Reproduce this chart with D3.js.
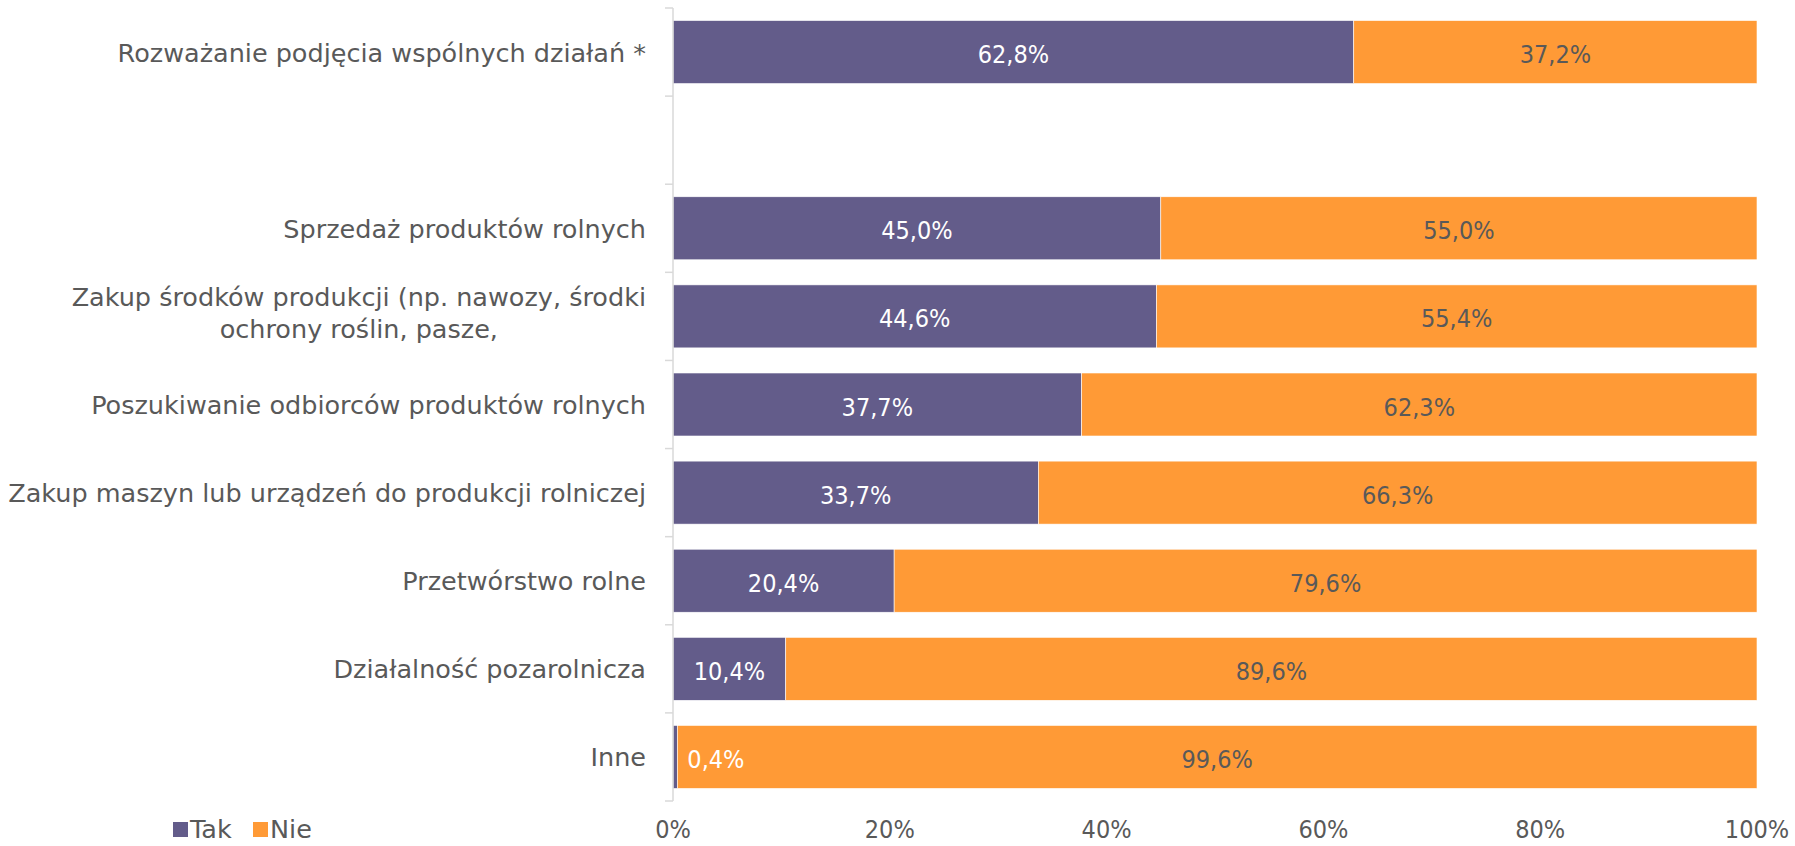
<!DOCTYPE html>
<html>
<head>
<meta charset="utf-8">
<script src="https://cdn.jsdelivr.net/npm/d3@7"></script>
<style>
  html, body { margin: 0; padding: 0; background: #fff; }
  svg { display: block; }
  text { font-family: "DejaVu Sans", sans-serif; }
  text.num { font-family: "DejaVu Sans Condensed", "DejaVu Sans", sans-serif; font-stretch: condensed; }
</style>
</head>
<body>
<svg id="chart" width="1795" height="846"></svg>
<script>
// ---- data ----
const categories = [
  "Rozważanie podjęcia wspólnych działań *",
  "",
  "Sprzedaż produktów rolnych",
  "Zakup środków produkcji (np. nawozy, środki\nochrony roślin, pasze,",
  "Poszukiwanie odbiorców produktów rolnych",
  "Zakup maszyn lub urządzeń do produkcji rolniczej",
  "Przetwórstwo rolne",
  "Działalność pozarolnicza",
  "Inne"
];
const takValues = [62.8, null, 45.0, 44.6, 37.7, 33.7, 20.4, 10.4, 0.4];
const nieValues = [37.2, null, 55.0, 55.4, 62.3, 66.3, 79.6, 89.6, 99.6];
const seriesNames = ["Tak", "Nie"];
const xTickValues = [0, 20, 40, 60, 80, 100];

(function () {
// ---- styles ----
const colors = { Tak: "#635C8A", Nie: "#FF9A36" };
const textColor = "#595959";
const axisColor = "#D9D9D9";
const catFont = 25.5;
const valFont = 25;
const bottomBaseline = 838;

const svg = d3.select("#chart");
const mLeft = 673, mRight = 1757, mTop = 8, mBottom = 801;

const x = d3.scaleLinear().domain([0, 100]).range([mLeft, mRight]);
const y = d3.scaleBand()
  .domain(categories.map((c, i) => i))
  .range([mTop, mBottom])
  .paddingInner(0.285)
  .paddingOuter(0.1425);

const rows = categories.map((c, i) => ({ i, label: c, tak: takValues[i], nie: nieValues[i] }));
const stackData = rows.filter(r => r.tak != null);

const stacked = d3.stack().keys(["tak", "nie"])(stackData);

const g = svg.append("g");
stacked.forEach((layer, li) => {
  const name = seriesNames[li];
  g.selectAll(null)
    .data(layer)
    .join("rect")
    .attr("x", d => x(d[0]))
    .attr("y", d => y(d.data.i))
    .attr("width", d => x(d[1]) - x(d[0]))
    .attr("height", y.bandwidth())
    .attr("fill", colors[name])
    .attr("stroke", "#ffffff")
    .attr("stroke-width", 0.6);
});

// data labels
const fmt = v => d3.format(".1f")(v).replace(".", ",") + "%";
stacked.forEach((layer, li) => {
  const name = seriesNames[li];
  g.selectAll(null)
    .data(layer)
    .join("text")
    .attr("class", "num")
    .attr("x", d => {
      const w = x(d[1]) - x(d[0]);
      return w < 60 ? x(d[1]) + 10 : (x(d[0]) + x(d[1])) / 2;
    })
    .attr("y", d => y(d.data.i) + y.bandwidth() / 2 + 11)
    .attr("text-anchor", d => (x(d[1]) - x(d[0])) < 60 ? "start" : "middle")
    .attr("font-size", valFont)
    .attr("fill", name === "Tak" ? "#ffffff" : textColor)
    .text(d => fmt(d[1] - d[0]));
});

// y axis line and ticks (category boundaries)
svg.append("line")
  .attr("x1", mLeft).attr("x2", mLeft)
  .attr("y1", mTop).attr("y2", mBottom)
  .attr("stroke", axisColor).attr("stroke-width", 1.5);
const step = y.step();
const boundaries = d3.range(categories.length + 1).map(k => mTop + k * step);
svg.selectAll(".ytick")
  .data(boundaries)
  .join("line")
  .attr("x1", mLeft - 8).attr("x2", mLeft)
  .attr("y1", d => d).attr("y2", d => d)
  .attr("stroke", axisColor).attr("stroke-width", 1.5);

// category labels
const labelX = 646;
categories.forEach((c, i) => {
  if (!c) return;
  const lines = c.split("\n");
  const cy = y(i) + y.bandwidth() / 2;
  const lh = 32;
  const t = svg.append("text")
    .attr("font-size", catFont)
    .attr("fill", textColor);
  if (lines.length === 1) {
    t.attr("x", labelX).attr("y", cy + 9.5).attr("text-anchor", "end").text(c);
  } else {
    t.attr("text-anchor", "middle");
    lines.forEach((l, k) => {
      t.append("tspan")
        .attr("y", cy + 9.5 + (k - (lines.length - 1) / 2) * lh - 4)
        .text(l);
    });
    const widths = [];
    t.selectAll("tspan").each(function() { widths.push(this.getComputedTextLength()); });
    const maxW = d3.max(widths);
    t.selectAll("tspan").attr("x", labelX - maxW / 2);
  }
});

// x axis labels
svg.selectAll(".xlab")
  .data(xTickValues)
  .join("text")
  .attr("class", "num")
  .attr("x", d => x(d))
  .attr("y", bottomBaseline)
  .attr("text-anchor", "middle")
  .attr("font-size", valFont)
  .attr("fill", textColor)
  .text(d => d + "%");

// legend
const legend = svg.append("g");
const legendPos = [173, 253];
seriesNames.forEach((s, k) => {
  legend.append("rect")
    .attr("x", legendPos[k]).attr("y", bottomBaseline - 16)
    .attr("width", 15).attr("height", 15)
    .attr("fill", colors[s]);
  legend.append("text")
    .attr("x", legendPos[k] + 17).attr("y", bottomBaseline)
    .attr("font-size", catFont)
    .attr("fill", textColor)
    .text(s);
});
})();
</script>
</body>
</html>
